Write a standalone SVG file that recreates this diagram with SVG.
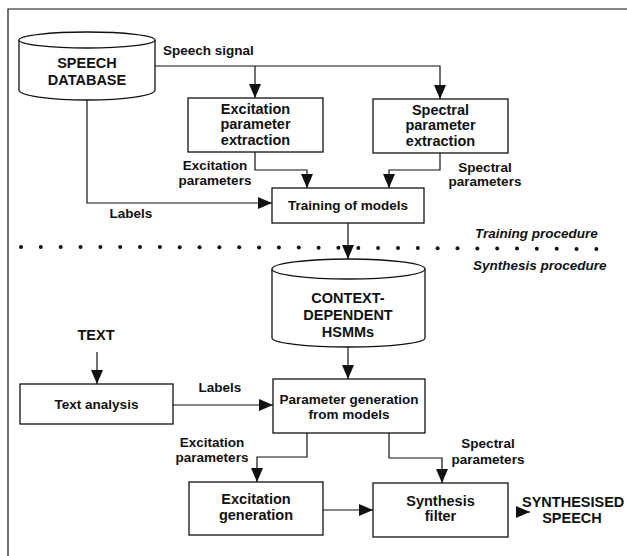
<svg xmlns="http://www.w3.org/2000/svg" width="627" height="556" viewBox="0 0 627 556">
<defs>
<style>
.bx{fill:#fff;stroke:#111;stroke-width:1.3}
.ln{fill:none;stroke:#111;stroke-width:1.2}
.t{font-family:"Liberation Sans",Arial,sans-serif;font-weight:bold;font-size:13.5px;fill:#111}
.b{font-size:14.5px}
.m{text-anchor:middle}
.i{font-style:italic}
.dot{fill:#111}
</style>
<marker id="ah" markerUnits="userSpaceOnUse" markerWidth="15" markerHeight="13" refX="14" refY="6.5" orient="auto">
<path d="M0,0.5 L14,6.5 L0,12.5 Z" fill="#111"/>
</marker>
</defs>
<rect width="627" height="556" fill="#fff"/>
<path class="ln" d="M8,556 V9 H627"/>

<g id="dotted-line">
<g class="dot">
<circle cx="21" cy="247" r="2"/><circle cx="40.8" cy="247" r="2"/><circle cx="60.7" cy="247" r="2"/><circle cx="80.5" cy="247" r="2"/><circle cx="100.4" cy="247" r="2"/><circle cx="120.2" cy="247" r="2"/><circle cx="140" cy="247" r="2"/><circle cx="159.9" cy="247" r="2"/><circle cx="179.7" cy="247.2" r="2"/><circle cx="199.6" cy="247.2" r="2"/><circle cx="219.4" cy="247.3" r="2"/><circle cx="239.2" cy="247.3" r="2"/><circle cx="259.1" cy="247.4" r="2"/><circle cx="278.9" cy="247.5" r="2"/><circle cx="298.8" cy="247.6" r="2"/><circle cx="318.6" cy="247.7" r="2"/><circle cx="338.4" cy="247.8" r="2"/><circle cx="358.3" cy="247.9" r="2"/><circle cx="378.1" cy="248" r="2"/><circle cx="398" cy="248" r="2"/><circle cx="417.8" cy="248.1" r="2"/><circle cx="437.6" cy="248.2" r="2"/><circle cx="457.5" cy="248.3" r="2"/><circle cx="477.3" cy="248.4" r="2"/><circle cx="497.2" cy="248.5" r="2"/><circle cx="517" cy="248.6" r="2"/><circle cx="536.8" cy="248.7" r="2"/><circle cx="556.7" cy="248.8" r="2"/><circle cx="576.5" cy="248.9" r="2"/><circle cx="596.4" cy="249" r="2"/>
</g>
<text class="t i" x="475" y="238">Training procedure</text>
<text class="t i" x="473" y="270">Synthesis procedure</text>
</g>

<g id="connectors">
<path class="ln" d="M155,66 H440 V99" marker-end="url(#ah)"/>
<path class="ln" d="M255,66 V98" marker-end="url(#ah)"/>
<path class="ln" d="M255,152 V170 H307 V188" marker-end="url(#ah)"/>
<path class="ln" d="M440,153 V170 H389 V188" marker-end="url(#ah)"/>
<path class="ln" d="M87,99 V203 H272" marker-end="url(#ah)"/>
<path class="ln" d="M348,223 V259" marker-end="url(#ah)"/>
<path class="ln" d="M348,347 V379" marker-end="url(#ah)"/>
<path class="ln" d="M97,352 V384" marker-end="url(#ah)"/>
<path class="ln" d="M173,405 H273" marker-end="url(#ah)"/>
<path class="ln" d="M307,433 V457 H257 V482" marker-end="url(#ah)"/>
<path class="ln" d="M389,433 V458 H442 V483" marker-end="url(#ah)"/>
<path class="ln" d="M323,510 H373" marker-end="url(#ah)"/>
<path class="ln" d="M516,512 H530" marker-end="url(#ah)"/>
<text class="t" x="163" y="55">Speech signal</text>
<text class="t m" x="215" y="170">Excitation</text>
<text class="t m" x="215" y="185">parameters</text>
<text class="t m" x="485" y="172">Spectral</text>
<text class="t m" x="485" y="186">parameters</text>
<text class="t m" x="131" y="218">Labels</text>
<text class="t m" x="220" y="392">Labels</text>
<text class="t m" x="212" y="447">Excitation</text>
<text class="t m" x="212" y="462">parameters</text>
<text class="t m" x="488" y="448">Spectral</text>
<text class="t m" x="488" y="464">parameters</text>
</g>

<g id="speech-database">
<path class="bx" d="M19,40 V90 A68,10 0 0 0 155,90 V40"/>
<ellipse class="bx" cx="87" cy="40" rx="68" ry="8"/>
<text class="t m b" x="87" y="68">SPEECH</text>
<text class="t m b" x="87" y="85">DATABASE</text>
</g>

<g id="excitation-extraction">
<rect class="bx" x="188" y="98" width="135" height="54"/>
<text class="t m b" x="255.5" y="114">Excitation</text>
<text class="t m b" x="255.5" y="129">parameter</text>
<text class="t m b" x="255.5" y="145">extraction</text>
</g>

<g id="spectral-extraction">
<rect class="bx" x="373" y="99" width="135" height="54"/>
<text class="t m b" x="440.5" y="115">Spectral</text>
<text class="t m b" x="440.5" y="130">parameter</text>
<text class="t m b" x="440.5" y="146">extraction</text>
</g>

<g id="training">
<rect class="bx" x="272" y="188" width="152" height="35"/>
<text class="t m" x="348" y="210">Training of models</text>
</g>

<g id="hsmms">
<path class="bx" d="M272,269 V338 A76.5,9 0 0 0 425,338 V269"/>
<ellipse class="bx" cx="348.5" cy="269" rx="76.5" ry="10"/>
<text class="t m b" x="348" y="303">CONTEXT-</text>
<text class="t m b" x="348" y="320">DEPENDENT</text>
<text class="t m b" x="348" y="337">HSMMs</text>
</g>

<g id="text-input">
<text class="t m b" x="96" y="340">TEXT</text>
</g>

<g id="text-analysis">
<rect class="bx" x="20" y="384" width="153" height="40"/>
<text class="t m" x="96.5" y="409">Text analysis</text>
</g>

<g id="parameter-generation">
<rect class="bx" x="273" y="379" width="152" height="54"/>
<text class="t m" x="349" y="404">Parameter generation</text>
<text class="t m" x="349" y="419">from models</text>
</g>

<g id="excitation-generation">
<rect class="bx" x="189" y="482" width="134" height="53"/>
<text class="t m b" x="256" y="504">Excitation</text>
<text class="t m b" x="256" y="520">generation</text>
</g>

<g id="synthesis-filter">
<rect class="bx" x="373" y="483" width="135" height="54"/>
<text class="t m b" x="440.5" y="506">Synthesis</text>
<text class="t m b" x="440.5" y="521">filter</text>
</g>

<g id="synthesised-speech">
<text class="t b" x="522" y="507">SYNTHESISED</text>
<text class="t m b" x="572" y="523">SPEECH</text>
</g>
</svg>
